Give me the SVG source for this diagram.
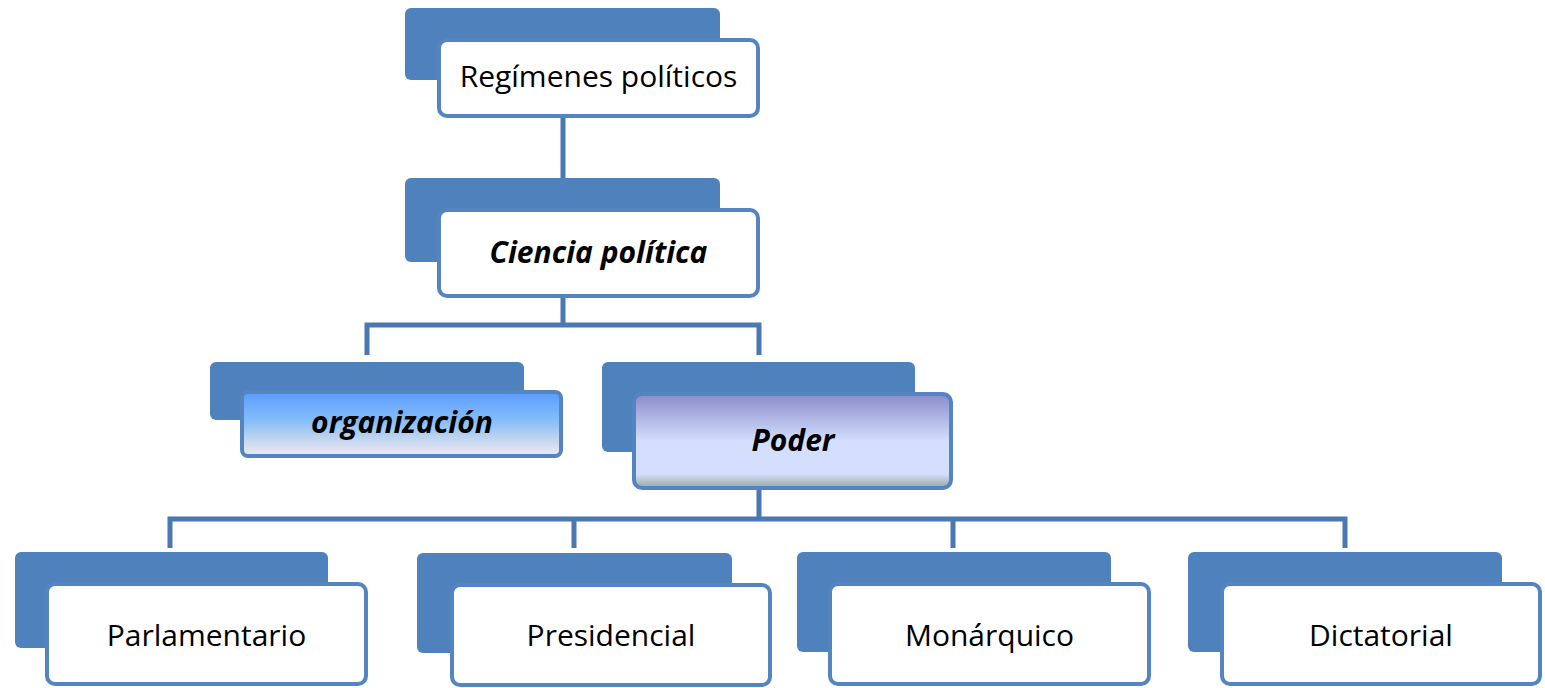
<svg xmlns="http://www.w3.org/2000/svg" width="1545" height="688" viewBox="0 0 1545 688">
<style>
.back{fill:#4f81bd;}
.front{fill:#ffffff;stroke:#5585c0;stroke-width:4;}
.conn{fill:none;stroke:#4a78b2;stroke-width:5;}
.t{font-family:"Open Sans","Liberation Sans",sans-serif;font-size:30px;fill:#000;text-anchor:middle;}
.tb{font-family:"Open Sans","Liberation Sans",sans-serif;font-size:30px;font-weight:bold;font-style:italic;fill:#000;text-anchor:middle;}
</style>
<defs>
<linearGradient id="gOrg" x1="0" y1="0" x2="0" y2="1">
<stop offset="0" stop-color="#5a9cff"/>
<stop offset="0.45" stop-color="#86bdf9"/>
<stop offset="0.75" stop-color="#c4d7ee"/>
<stop offset="1" stop-color="#efe8f6"/>
</linearGradient>
<linearGradient id="gPod" x1="0" y1="0" x2="0" y2="1">
<stop offset="0" stop-color="#8a8cc8"/>
<stop offset="0.3" stop-color="#b5bde9"/>
<stop offset="0.5" stop-color="#d3dffd"/>
<stop offset="0.85" stop-color="#d3dffd"/>
<stop offset="1" stop-color="#97a89c"/>
</linearGradient>
</defs>
<g id="connectors">
<line class="conn" x1="563" y1="118" x2="563" y2="178"/>
<path class="conn" d="M563 298 V325 M367 355 V325 H759 V355"/>
<path class="conn" d="M759 490 V519 M170 548 V519 H1345 V548 M574 548 V519 M953 548 V519"/>
</g>
<g id="n-regimenes">
<rect class="back" x="405" y="8" width="315" height="72" rx="6"/>
<rect class="front" x="439" y="40" width="319" height="76" rx="8"/>
<text class="t" x="598.5" y="87">Regímenes políticos</text>
</g>
<g id="n-ciencia">
<rect class="back" x="405" y="178" width="315" height="84" rx="6"/>
<rect class="front" x="439" y="210" width="319" height="86" rx="8"/>
<text class="tb" x="598.5" y="263">Ciencia política</text>
</g>
<g id="n-organizacion">
<rect class="back" x="210" y="362" width="314" height="58" rx="6"/>
<rect class="front" x="242" y="392" width="319" height="64" rx="6" style="fill:url(#gOrg)"/>
<text class="tb" x="402" y="433">organización</text>
</g>
<g id="n-poder">
<rect class="back" x="602" y="362" width="313" height="90" rx="6"/>
<rect class="front" x="634" y="394" width="317" height="94" rx="8" style="fill:url(#gPod)"/>
<text class="tb" x="793" y="451">Poder</text>
</g>
<g id="n-parlamentario">
<rect class="back" x="15" y="552" width="313" height="96" rx="6"/>
<rect class="front" x="47" y="584" width="319" height="100" rx="8"/>
<text class="t" x="206.5" y="646">Parlamentario</text>
</g>
<g id="n-presidencial">
<rect class="back" x="417" y="553" width="315" height="100" rx="6"/>
<rect class="front" x="452" y="585" width="318" height="100" rx="8"/>
<text class="t" x="611" y="646">Presidencial</text>
</g>
<g id="n-monarquico">
<rect class="back" x="797" y="552" width="314" height="100" rx="6"/>
<rect class="front" x="830" y="584" width="319" height="100" rx="8"/>
<text class="t" x="989.5" y="646">Monárquico</text>
</g>
<g id="n-dictatorial">
<rect class="back" x="1188" y="552" width="314" height="100" rx="6"/>
<rect class="front" x="1222" y="584" width="318" height="100" rx="8"/>
<text class="t" x="1381" y="646">Dictatorial</text>
</g>
</svg>
